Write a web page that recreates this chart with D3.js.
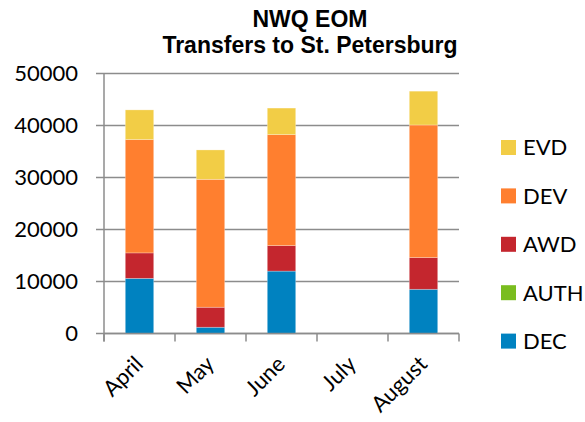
<!DOCTYPE html>
<html>
<head>
<meta charset="utf-8">
<script src="https://cdn.jsdelivr.net/npm/d3@7"></script>
<style>
  body { margin: 0; background: #fff; }
  svg { display: block; }
  text { font-family: Lato, "Open Sans", sans-serif; fill: #000; }
  .title { font-family: "Liberation Sans", Arial, sans-serif; font-weight: bold; }
</style>
</head>
<body>
<svg></svg>
<script>
// chart data
let months = ['April', 'May', 'June', 'July', 'August']
let seriesNames = ['DEC', 'AUTH', 'AWD', 'DEV', 'EVD']
let dec  = [10600, 1200, 12000, 0, 8500]
let auth = [0, 0, 0, 0, 0]
let awd  = [4900, 3850, 4900, 0, 6100]
let dev  = [21800, 24600, 21350, 0, 25500]
let evd  = [5700, 5650, 5100, 0, 6500]
let yTicks = [0, 10000, 20000, 30000, 40000, 50000]
let titleLines = ['NWQ EOM', 'Transfers to St. Petersburg']

let colors = {
    DEC: '#0082C0',
    AUTH: '#7ABD1F',
    AWD: '#C4262E',
    DEV: '#FF7F2F',
    EVD: '#F2CD46'
}

let width = 585
let height = 422
let plotLeft = 104
let plotRight = 459
let plotTop = 73.5
let plotBottom = 333.5

let svg = d3.select('svg')
    .attr('width', width)
    .attr('height', height)

// rows for the stack
let rows = months.map((m, i) => {
    return { month: m, DEC: dec[i], AUTH: auth[i], AWD: awd[i], DEV: dev[i], EVD: evd[i] }
})
let stacked = d3.stack().keys(seriesNames)(rows)

let xScale = d3.scaleBand()
    .domain(months)
    .range([plotLeft, plotRight])
    .paddingInner(0.6)
    .paddingOuter(0.3)

let yScale = d3.scaleLinear()
    .domain([0, 50000])
    .range([plotBottom, plotTop])

// gridlines
svg.append('g')
    .selectAll('line')
    .data(yTicks)
    .enter()
    .append('line')
    .attr('x1', plotLeft - 8)
    .attr('x2', plotRight)
    .attr('y1', d => yScale(d))
    .attr('y2', d => yScale(d))
    .attr('stroke', '#8c8c8c')
    .attr('stroke-width', 1.5)

// y axis labels
let yAxis = d3.axisLeft(yScale)
    .tickValues(yTicks)
    .tickFormat(d3.format('d'))
    .tickSize(0)
    .tickPadding(26)
svg.append('g')
    .attr('transform', `translate(${plotLeft}, 0)`)
    .call(yAxis)
    .call(g => g.select('.domain').remove())
    .selectAll('text')
    .style('font-size', '22px')
    .style('font-family', 'Lato, sans-serif')
    .attr('fill', '#000')

// bars
svg.append('g')
    .selectAll('g')
    .data(stacked)
    .enter()
    .append('g')
    .attr('fill', d => colors[d.key])
    .selectAll('rect')
    .data(d => d)
    .enter()
    .append('rect')
    .attr('x', d => xScale(d.data.month))
    .attr('width', xScale.bandwidth())
    .attr('y', d => yScale(d[1]))
    .attr('height', d => yScale(d[0]) - yScale(d[1]))
    .attr('stroke', 'rgba(255,255,255,0.35)')
    .attr('stroke-width', 0.75)

// axis lines and category ticks
let step = xScale.step()
let boundaries = d3.range(months.length + 1).map(i => plotLeft + i * step)
svg.append('line')
    .attr('x1', plotLeft).attr('x2', plotLeft)
    .attr('y1', plotTop).attr('y2', plotBottom + 8)
    .attr('stroke', '#8c8c8c').attr('stroke-width', 1.5)
svg.append('line')
    .attr('x1', plotLeft).attr('x2', plotRight)
    .attr('y1', plotBottom).attr('y2', plotBottom)
    .attr('stroke', '#8c8c8c').attr('stroke-width', 1.5)
svg.append('g')
    .selectAll('line')
    .data(boundaries)
    .enter()
    .append('line')
    .attr('x1', d => d).attr('x2', d => d)
    .attr('y1', plotBottom).attr('y2', plotBottom + 8)
    .attr('stroke', '#8c8c8c').attr('stroke-width', 1.5)

// x labels, rotated
svg.append('g')
    .selectAll('text')
    .data(months)
    .enter()
    .append('text')
    .attr('text-anchor', 'end')
    .attr('transform', d => `translate(${xScale(d) + xScale.bandwidth() / 2 + 5}, ${plotBottom + 32}) rotate(-45)`)
    .style('font-size', '22px')
    .text(d => d)

// title, one text per line
svg.append('g')
    .selectAll('text')
    .data(titleLines)
    .enter()
    .append('text')
    .attr('class', 'title')
    .attr('text-anchor', 'middle')
    .attr('x', 310)
    .attr('y', (d, i) => 27 + i * 26)
    .style('font-size', '23px')
    .text(d => d)

// legend, top entry is the last series
let legendNames = seriesNames.slice().reverse()
let legend = svg.append('g')
    .selectAll('g')
    .data(legendNames)
    .enter()
    .append('g')
    .attr('transform', (d, i) => `translate(501, ${147.5 + i * 48.4})`)
legend.append('rect')
    .attr('x', 0)
    .attr('y', -7.5)
    .attr('width', 15)
    .attr('height', 15)
    .attr('fill', d => colors[d])
legend.append('text')
    .attr('x', 22)
    .attr('dy', '0.36em')
    .style('font-size', '22px')
    .text(d => d)
</script>
</body>
</html>
